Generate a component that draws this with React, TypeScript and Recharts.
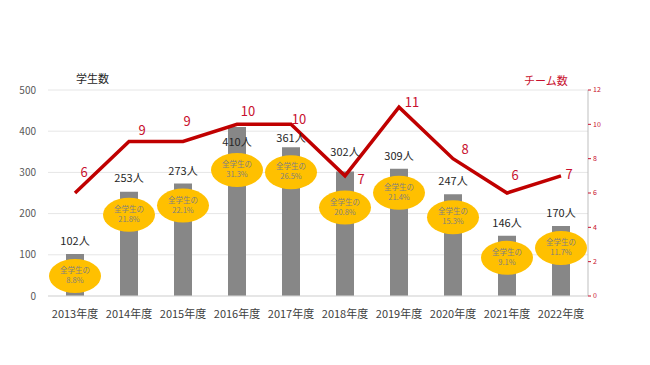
import { ComposedChart, Bar, Line, XAxis, YAxis, CartesianGrid, LabelList } from 'recharts';

const years = ['2013年度', '2014年度', '2015年度', '2016年度', '2017年度', '2018年度', '2019年度', '2020年度', '2021年度', '2022年度'];
const students = [102, 253, 273, 410, 361, 302, 309, 247, 146, 170];
const shares = ['8.8%', '21.8%', '22.1%', '31.3%', '26.5%', '20.8%', '21.4%', '15.3%', '9.1%', '11.7%'];
const teams = [6, 9, 9, 10, 10, 7, 11, 8, 6, 7];
const leftTicks = [0, 100, 200, 300, 400, 500];
const rightTicks = [0, 2, 4, 6, 8, 10, 12];

const data = years.map((year, i) => ({ year, students: students[i], share: shares[i], teams: teams[i] }));

// label nudges so nothing collides with the line
const teamLabelNudge = [[9, -20], [13, -10], [4, -19], [11, -12], [8, -4], [16, 5], [13, -4], [12, -8], [8, -17], [8, 0]];
const countLabelNudge = [-12, -13, -12, 16, -8, -19, -12, -12, -12, -12];
const bubbleNudge = [22, 23, 22, 43, 25, 36, 24, 23, 22, 22];

const FONT = '"Noto Sans CJK JP", "Noto Sans", sans-serif';

function BarLabel(props: any) {
  const { x, y, width, value, index } = props;
  const cx = x + width / 2;
  const by = y + bubbleNudge[index];
  return (
    <g>
      <text x={cx} y={y + countLabelNudge[index]} textAnchor="middle" dominantBaseline="middle" fontSize={11} fill="#262626" fontFamily={FONT}>
        {value}人
      </text>
      <ellipse cx={cx} cy={by} rx={26} ry={17} fill="#FFC000" />
      <text x={cx} y={by - 5} textAnchor="middle" dominantBaseline="middle" fontSize={7.5} fill="#7f7f7f" fontFamily={FONT}>
        全学生の
      </text>
      <text x={cx} y={by + 5} textAnchor="middle" dominantBaseline="middle" fontSize={7.5} fill="#7f7f7f" fontFamily={FONT}>
        {shares[index]}
      </text>
    </g>
  );
}

function TeamLabel(props: any) {
  const { x, y, value, index } = props;
  const [dx, dy] = teamLabelNudge[index];
  return (
    <text x={x + dx} y={y + dy} textAnchor="middle" dominantBaseline="middle" fontSize={13} fill="#c8102e" fontFamily={FONT}>
      {value}
    </text>
  );
}

export default function App() {
  return (
    <div style={{ position: 'absolute', left: 0, top: 0, width: 650, height: 365, background: '#fff' }}>
      <div style={{ position: 'absolute', left: 76, top: 70, fontSize: 11, color: '#262626', fontFamily: FONT }}>学生数</div>
      <div style={{ position: 'absolute', left: 524, top: 72, fontSize: 11, color: '#c8102e', fontFamily: FONT }}>チーム数</div>
      <ComposedChart width={650} height={365} data={data} margin={{ top: 90, right: 22, left: 8, bottom: 39 }}>
        <CartesianGrid yAxisId="left" vertical={false} stroke="#e6e6e6" />
        <XAxis
          dataKey="year"
          height={30}
          tickLine={false}
          axisLine={{ stroke: '#d9d9d9' }}
          tick={{ fontSize: 11, fill: '#404040', fontFamily: FONT }}
          tickMargin={8}
        />
        <YAxis
          yAxisId="left"
          width={40}
          domain={[0, 500]}
          ticks={leftTicks}
          axisLine={false}
          tickLine={false}
          tick={{ fontSize: 10, fill: '#595959', fontFamily: FONT }}
          tickMargin={6}
        />
        <YAxis
          yAxisId="right"
          orientation="right"
          width={40}
          domain={[0, 12]}
          ticks={rightTicks}
          axisLine={{ stroke: '#bfbfbf' }}
          tickLine={{ stroke: '#c8102e' }}
          tickSize={3}
          tick={{ fontSize: 7, fill: '#c8102e', fontFamily: FONT }}
        />
        <Bar yAxisId="left" dataKey="students" fill="#878787" barSize={18} isAnimationActive={false}>
          <LabelList dataKey="students" content={BarLabel} />
        </Bar>
        <Line
          yAxisId="right"
          dataKey="teams"
          stroke="#c00000"
          strokeWidth={3.5}
          dot={false}
          isAnimationActive={false}
        >
          <LabelList dataKey="teams" content={TeamLabel} />
        </Line>
      </ComposedChart>
    </div>
  );
}
